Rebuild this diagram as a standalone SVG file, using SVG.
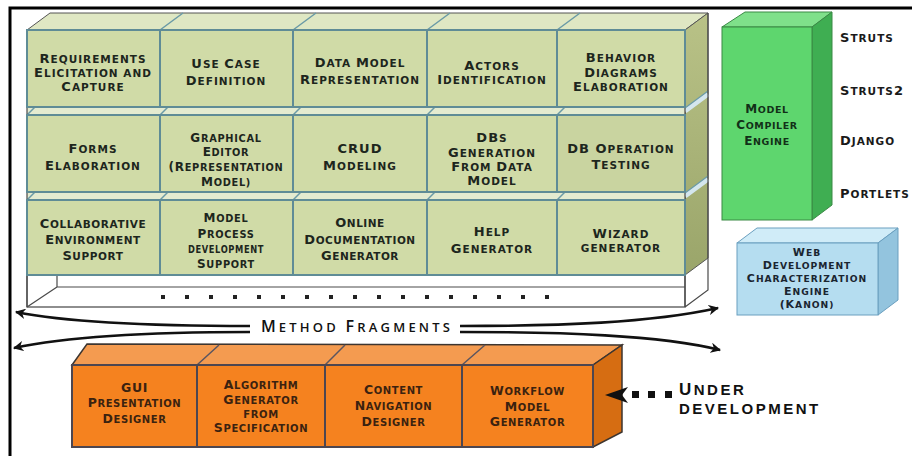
<svg xmlns="http://www.w3.org/2000/svg" width="912" height="456" viewBox="0 0 912 456">
<defs>
<style>
.c{font-family:"DejaVu Sans","Liberation Sans",sans-serif;font-weight:bold;font-size:10.5px;letter-spacing:1px;text-anchor:middle;fill:#1d261d}
.c .k{font-size:13px}
.s{font-size:9.8px;letter-spacing:0.7px}
.s .k{font-size:12px}
.o{font-family:"DejaVu Sans","Liberation Sans",sans-serif;font-weight:bold;font-size:10px;letter-spacing:0.6px;text-anchor:middle;fill:#3b2210}
.o .k{font-size:12.5px}
.e{font-family:"DejaVu Sans","Liberation Sans",sans-serif;font-weight:bold;font-size:9.5px;letter-spacing:0.6px;text-anchor:middle;fill:#123018}
.e .k{font-size:12px}
.w{font-family:"DejaVu Sans","Liberation Sans",sans-serif;font-weight:bold;font-size:9.2px;letter-spacing:0.95px;text-anchor:middle;fill:#1a2530}
.w .k{font-size:11px}
.lab{font-family:"DejaVu Sans","Liberation Sans",sans-serif;font-weight:bold;font-size:10.5px;letter-spacing:1px;fill:#1a1a1a}
.lab .k{font-size:13px}
.big{font-family:"Open Sans","DejaVu Sans",sans-serif;font-weight:600;fill:#111}
.ud{font-family:"Liberation Sans","Arial",sans-serif;font-weight:bold;font-size:15px;letter-spacing:2.5px;fill:#111}
.cell{fill:#d0dba7;stroke:#5f8c96;stroke-width:2}
.gl{stroke:#6a9aa6;stroke-width:1.5;fill:none}
.strip{fill:#e4ebd0;stroke:none}
.ol{fill:none;stroke:#4a4a4a;stroke-width:1.2}
.ocell{fill:#f5821f;stroke:#4d4650;stroke-width:2}
.arr{fill:none;stroke:#111;stroke-width:2.6}
</style>
<linearGradient id="side" x1="0" y1="0" x2="0" y2="1">
<stop offset="0" stop-color="#b9c287"/>
<stop offset="1" stop-color="#9aa56a"/>
</linearGradient>
<marker id="ah" viewBox="0 0 10 10" refX="9" refY="5" markerWidth="4" markerHeight="4" orient="auto" markerUnits="strokeWidth">
<path d="M0,0 L10,5 L0,10 L3,5 z" fill="#111"/>
</marker>
</defs>
<rect width="912" height="456" fill="#ffffff"/>
<path d="M10,456 V8 H912" fill="none" stroke="#000" stroke-width="3"/>

<g id="method-fragments-box">
<polygon points="27,30 50,13 708,13 685,30" fill="#dfe7c3" stroke="#555" stroke-width="1"/>
<path class="gl" d="M160,30 L183,13 M293,30 L316,13 M427,30 L450,13 M557,30 L580,13"/>
<polygon points="685,30 708,13 708,258 685,275" fill="url(#side)" stroke="#555" stroke-width="1"/>
<path d="M685,111 L708,94 M685,196 L708,179" stroke="#d4e6ee" stroke-width="5" fill="none"/>
<path d="M685,108 L708,91 M685,193 L708,176" stroke="#6a9aa6" stroke-width="1.2" fill="none"/>
<rect x="27" y="107" width="658" height="8" class="strip"/>
<rect x="27" y="192" width="658" height="8" class="strip"/>
<path class="gl" d="M27,115 L35,107 M160,115 L168,107 M293,115 L301,107 M427,115 L435,107 M557,115 L565,107 M27,200 L35,192 M160,200 L168,192 M293,200 L301,192 M427,200 L435,192 M557,200 L565,192"/>
<rect x="27" y="275" width="658" height="32" fill="#fff" stroke="#444" stroke-width="1.2"/>
<path class="ol" d="M57,275 V287 H685 M57,287 L27,307 M685,307 L708,290 V13 M685,30 V307 M27,30 V307"/>
<g fill="#222">
<rect x="161" y="295" width="4" height="4"/><rect x="185" y="295" width="4" height="4"/><rect x="209" y="295" width="4" height="4"/><rect x="233" y="295" width="4" height="4"/><rect x="257" y="295" width="4" height="4"/><rect x="281" y="295" width="4" height="4"/><rect x="305" y="295" width="4" height="4"/><rect x="329" y="295" width="4" height="4"/><rect x="353" y="295" width="4" height="4"/><rect x="377" y="295" width="4" height="4"/><rect x="401" y="295" width="4" height="4"/><rect x="425" y="295" width="4" height="4"/><rect x="449" y="295" width="4" height="4"/><rect x="473" y="295" width="4" height="4"/><rect x="497" y="295" width="4" height="4"/><rect x="521" y="295" width="4" height="4"/><rect x="545" y="295" width="4" height="4"/>
</g>
</g>

<g id="requirements">
<rect class="cell" x="27" y="30" width="133" height="77"/>
<text class="c" x="93" y="63"><tspan class="k">R</tspan>EQUIREMENTS</text>
<text class="c" x="93" y="77"><tspan class="k">E</tspan>LICITATION AND</text>
<text class="c" x="93" y="91"><tspan class="k">C</tspan>APTURE</text>
</g>
<g id="use-case">
<rect class="cell" x="160" y="30" width="133" height="77"/>
<text class="c" x="226" y="68"><tspan class="k">U</tspan>SE <tspan class="k">C</tspan>ASE</text>
<text class="c" x="226" y="85"><tspan class="k">D</tspan>EFINITION</text>
</g>
<g id="data-model">
<rect class="cell" x="293" y="30" width="134" height="77"/>
<text class="c" x="360" y="67"><tspan class="k">D</tspan>ATA <tspan class="k">M</tspan>ODEL</text>
<text class="c" x="360" y="84"><tspan class="k">R</tspan>EPRESENTATION</text>
</g>
<g id="actors">
<rect class="cell" x="427" y="30" width="130" height="77"/>
<text class="c" x="492" y="70"><tspan class="k">A</tspan>CTORS</text>
<text class="c" x="492" y="84"><tspan class="k">I</tspan>DENTIFICATION</text>
</g>
<g id="behavior">
<rect class="cell" x="557" y="30" width="128" height="77"/>
<text class="c" x="621" y="62"><tspan class="k">B</tspan>EHAVIOR</text>
<text class="c" x="621" y="77"><tspan class="k">D</tspan>IAGRAMS</text>
<text class="c" x="621" y="91"><tspan class="k">E</tspan>LABORATION</text>
</g>

<g id="forms">
<rect class="cell" x="27" y="115" width="133" height="77"/>
<text class="c" x="93" y="153"><tspan class="k">F</tspan>ORMS</text>
<text class="c" x="93" y="170"><tspan class="k">E</tspan>LABORATION</text>
</g>
<g id="graphical-editor">
<rect class="cell" x="160" y="115" width="133" height="77"/>
<text class="c s" x="226" y="142"><tspan class="k">G</tspan>RAPHICAL</text>
<text class="c s" x="226" y="156"><tspan class="k">E</tspan>DITOR</text>
<text class="c s" x="226" y="171"><tspan class="k">(R</tspan>EPRESENTATION</text>
<text class="c s" x="226" y="186"><tspan class="k">M</tspan>ODEL)</text>
</g>
<g id="crud">
<rect class="cell" x="293" y="115" width="134" height="77"/>
<text class="c" x="360" y="153"><tspan class="k">CRUD</tspan></text>
<text class="c" x="360" y="170"><tspan class="k">M</tspan>ODELING</text>
</g>
<g id="dbs-generation">
<rect class="cell" x="427" y="115" width="130" height="77"/>
<text class="c" x="492" y="142"><tspan class="k">DB</tspan>S</text>
<text class="c" x="492" y="157"><tspan class="k">G</tspan>ENERATION</text>
<text class="c" x="492" y="171"><tspan class="k">F</tspan>ROM <tspan class="k">D</tspan>ATA</text>
<text class="c" x="492" y="185"><tspan class="k">M</tspan>ODEL</text>
</g>
<g id="db-operation">
<rect class="cell" x="557" y="115" width="128" height="77" style="fill:#c9d4a0"/>
<text class="c" x="621" y="153"><tspan class="k">DB O</tspan>PERATION</text>
<text class="c" x="621" y="169"><tspan class="k">T</tspan>ESTING</text>
</g>

<g id="collaborative">
<rect class="cell" x="27" y="200" width="133" height="75"/>
<text class="c" x="93" y="228" style="letter-spacing:0.6px"><tspan class="k">C</tspan>OLLABORATIVE</text>
<text class="c" x="93" y="244" style="letter-spacing:0.6px"><tspan class="k">E</tspan>NVIRONMENT</text>
<text class="c" x="93" y="260" style="letter-spacing:0.6px"><tspan class="k">S</tspan>UPPORT</text>
</g>
<g id="model-process">
<rect class="cell" x="160" y="200" width="133" height="75"/>
<text class="c s" x="226" y="222"><tspan class="k">M</tspan>ODEL</text>
<text class="c s" x="226" y="238"><tspan class="k">P</tspan>ROCESS</text>
<text class="c s" x="226" y="253" textLength="76" lengthAdjust="spacingAndGlyphs">DEVELOPMENT</text>
<text class="c s" x="226" y="268"><tspan class="k">S</tspan>UPPORT</text>
</g>
<g id="online-doc">
<rect class="cell" x="293" y="200" width="134" height="75"/>
<text class="c" x="360" y="227" style="letter-spacing:0.5px"><tspan class="k">O</tspan>NLINE</text>
<text class="c" x="360" y="244" style="letter-spacing:0.5px"><tspan class="k">D</tspan>OCUMENTATION</text>
<text class="c" x="360" y="260" style="letter-spacing:0.5px"><tspan class="k">G</tspan>ENERATOR</text>
</g>
<g id="help">
<rect class="cell" x="427" y="200" width="130" height="75"/>
<text class="c" x="492" y="236"><tspan class="k">H</tspan>ELP</text>
<text class="c" x="492" y="253"><tspan class="k">G</tspan>ENERATOR</text>
</g>
<g id="wizard">
<rect class="cell" x="557" y="200" width="128" height="75"/>
<text class="c" x="621" y="238"><tspan class="k">W</tspan>IZARD</text>
<text class="c" x="621" y="252">GENERATOR</text>
</g>

<g id="model-compiler-engine">
<polygon points="722,27 745,12 832,12 812,27" fill="#7fe08a" stroke="#3a8a45" stroke-width="1"/>
<polygon points="812,27 832,12 832,205 812,220" fill="#3fae52" stroke="#3a8a45" stroke-width="1"/>
<rect x="722" y="27" width="90" height="193" fill="#5ed66e" stroke="#3a8a45" stroke-width="1"/>
<text class="e" x="767" y="113"><tspan class="k">M</tspan>ODEL</text>
<text class="e" x="767" y="129"><tspan class="k">C</tspan>OMPILER</text>
<text class="e" x="767" y="145"><tspan class="k">E</tspan>NGINE</text>
</g>

<g id="targets">
<text class="lab" x="840" y="42"><tspan class="k">S</tspan>TRUTS</text>
<text class="lab" x="840" y="95"><tspan class="k">S</tspan>TRUTS<tspan class="k">2</tspan></text>
<text class="lab" x="840" y="145"><tspan class="k">D</tspan>JANGO</text>
<text class="lab" x="840" y="198"><tspan class="k">P</tspan>ORTLETS</text>
</g>

<g id="web-dev-engine">
<polygon points="737,243 757,228 898,228 878,243" fill="#d0ecf8" stroke="#6a9fbf" stroke-width="1"/>
<polygon points="878,243 898,228 898,300 878,315" fill="#93c4de" stroke="#6a9fbf" stroke-width="1"/>
<rect x="737" y="243" width="141" height="72" fill="#b5ddf0" stroke="#6a9fbf" stroke-width="1"/>
<text class="w" x="807" y="256"><tspan class="k">W</tspan>EB</text>
<text class="w" x="807" y="269"><tspan class="k">D</tspan>EVELOPMENT</text>
<text class="w" x="807" y="282"><tspan class="k">C</tspan>HARACTERIZATION</text>
<text class="w" x="807" y="295"><tspan class="k">E</tspan>NGINE</text>
<text class="w" x="807" y="308"><tspan class="k">(K</tspan>ANON)</text>
</g>

<g id="under-development-box">
<polygon points="72,365 87,344 622,345 593,365" fill="#f49b50" stroke="#3d3530" stroke-width="1.5"/>
<polygon points="593,365 622,345 622,432 593,447" fill="#d66d12" stroke="#3d3530" stroke-width="1.5"/>
<path d="M197,365 L219,345 M325,365 L345,345 M462,365 L485,345" stroke="#5a5560" stroke-width="1.5" fill="none"/>
<g id="gui-designer">
<rect class="ocell" x="72" y="365" width="125" height="82"/>
<text class="o" x="134.5" y="392"><tspan class="k">GUI</tspan></text>
<text class="o" x="134.5" y="407"><tspan class="k">P</tspan>RESENTATION</text>
<text class="o" x="134.5" y="423"><tspan class="k">D</tspan>ESIGNER</text>
</g>
<g id="algorithm-generator">
<rect class="ocell" x="197" y="365" width="128" height="82"/>
<text class="o" x="261" y="389"><tspan class="k">A</tspan>LGORITHM</text>
<text class="o" x="261" y="404"><tspan class="k">G</tspan>ENERATOR</text>
<text class="o" x="261" y="418">FROM</text>
<text class="o" x="261" y="432"><tspan class="k">S</tspan>PECIFICATION</text>
</g>
<g id="content-navigation">
<rect class="ocell" x="325" y="365" width="137" height="82"/>
<text class="o" x="393.5" y="394"><tspan class="k">C</tspan>ONTENT</text>
<text class="o" x="393.5" y="410"><tspan class="k">N</tspan>AVIGATION</text>
<text class="o" x="393.5" y="426"><tspan class="k">D</tspan>ESIGNER</text>
</g>
<g id="workflow-generator">
<rect class="ocell" x="462" y="365" width="131" height="82"/>
<text class="o" x="527.5" y="395"><tspan class="k">W</tspan>ORKFLOW</text>
<text class="o" x="527.5" y="411"><tspan class="k">M</tspan>ODEL</text>
<text class="o" x="527.5" y="426"><tspan class="k">G</tspan>ENERATOR</text>
</g>
</g>

<g id="labels">
<text class="big" x="357" y="332" text-anchor="middle" style="font-size:13px;letter-spacing:3.2px"><tspan style="font-size:16px">M</tspan>ETHOD <tspan style="font-size:16px">F</tspan>RAGMENTS</text>
<text class="ud" x="679" y="395"><tspan style="font-size:17px">U</tspan>NDER</text>
<text class="ud" x="679" y="414">DEVELOPMENT</text>
</g>

<g id="connectors">
<path class="arr" d="M250,326 C150,326 70,323 16,312" marker-end="url(#ah)"/>
<path class="arr" d="M250,332 C150,332 70,336 14,348" marker-end="url(#ah)"/>
<path class="arr" d="M460,326 C560,326 650,323 718,308" marker-end="url(#ah)"/>
<path class="arr" d="M460,332 C560,332 660,335 720,350" marker-end="url(#ah)"/>
<path d="M605,395 L628,387 L622,395 L628,403 z" fill="#111"/>
<g fill="#111">
<rect x="632" y="391" width="7" height="7"/><rect x="648" y="391" width="7" height="7"/><rect x="665" y="391" width="7" height="7"/>
</g>
</g>
</svg>
